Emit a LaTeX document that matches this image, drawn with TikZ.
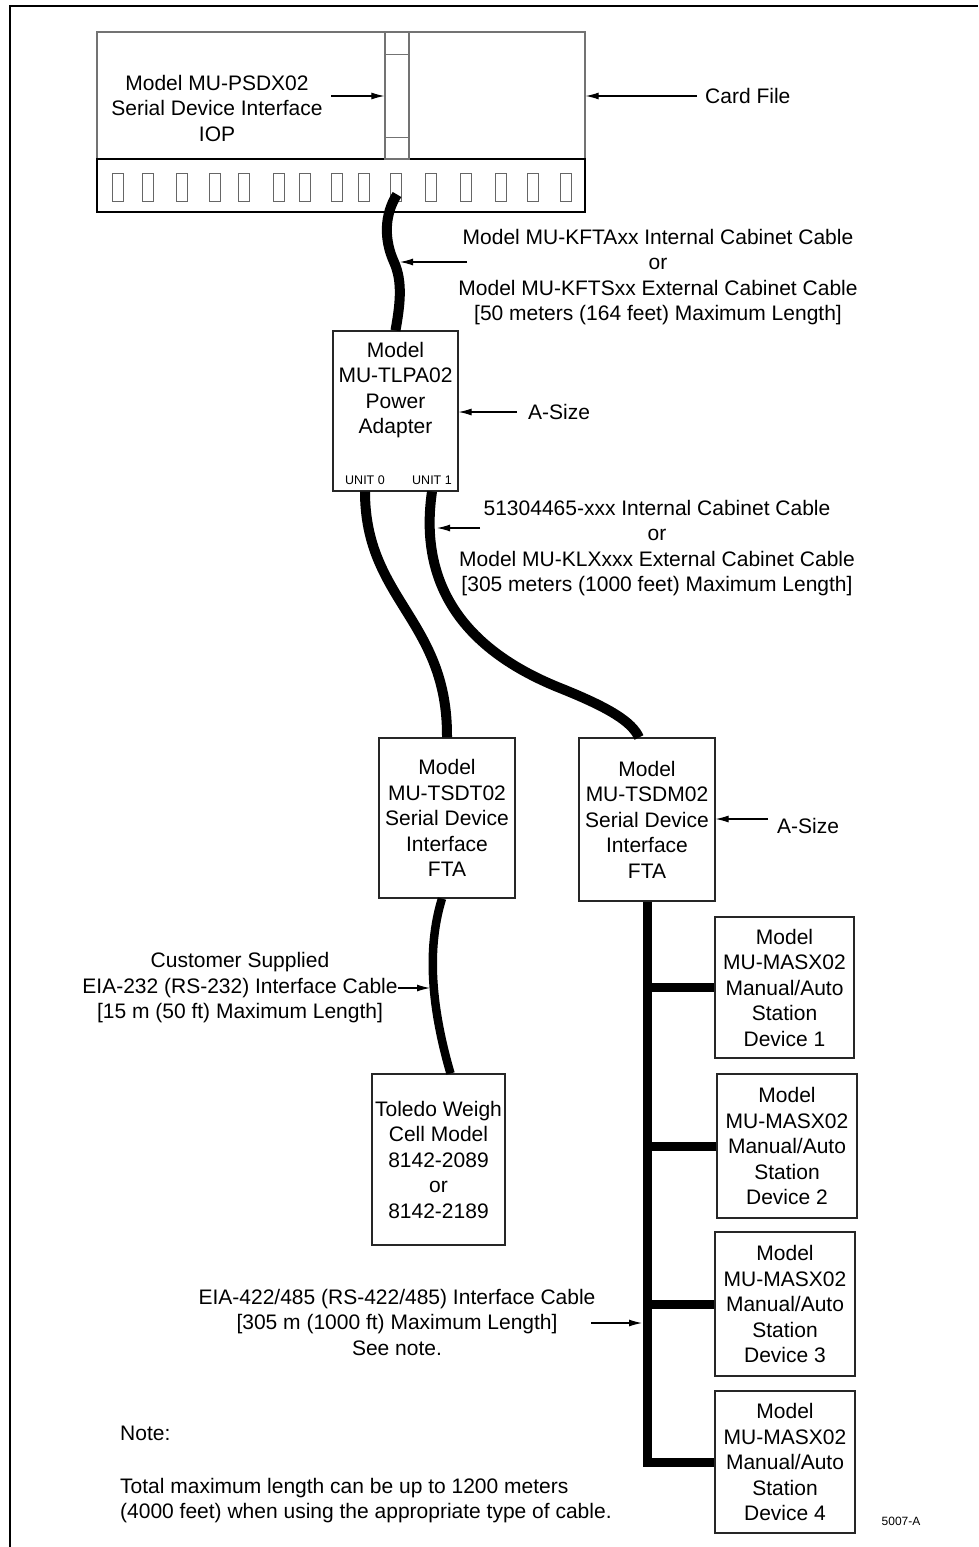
\documentclass[tikz,border=0pt]{standalone}
\usepackage{fontspec}
\setmainfont{Liberation Sans}
\usetikzlibrary{arrows.meta,calc}
\begin{document}
\begin{tikzpicture}[x=1pt,y=-1pt,
  txt/.style={font=\fontsize{21}{25.5}\selectfont, align=center, inner sep=0pt},
  box/.style={draw=black!85, line width=1.1pt, txt},
  grayline/.style={draw=black!55, line width=1.4pt},
  slotbox/.style={draw=black!60, line width=1pt, minimum width=11pt, minimum height=28pt, inner sep=0pt},
  cable/.style={line width=10pt, black},
  thincable/.style={line width=8.5pt, black},
  bus/.style={line width=9pt, black, line join=miter},
  ptr/.style={-{Latex[length=13pt,width=7pt]}, line width=1.1pt},
  small/.style={font=\fontsize{12.5}{14}\selectfont, inner sep=0pt}
]
\useasboundingbox (0,0) rectangle (978,1547);
% frame
\draw[line width=1.5pt] (10,1547) -- (10,6) -- (978,6);

% card file
\node[grayline, minimum width=488pt, minimum height=127pt, inner sep=0pt] (cardfile) at (341,95.5) {};
\node[draw=black, line width=1.4pt, minimum width=488pt, minimum height=53pt, inner sep=0pt] (strip) at (341,185.5) {};
\node[grayline, line width=1.2pt, minimum width=24pt, minimum height=127pt, inner sep=0pt] (slot) at (397,95.5) {};
\draw[grayline, line width=1.2pt] ($(slot.north west)+(0,23)$) -- ($(slot.north east)+(0,23)$);
\draw[grayline, line width=1.2pt] ($(slot.south west)+(0,-22)$) -- ($(slot.south east)+(0,-22)$);
\foreach \x [count=\i] in {118,148,182,215,244,279,305,337,364,396,431,466,501,533,566}
  \node[slotbox] (s\i) at (\x,187) {};

\node[txt] (psdx) at (217,108) {Model MU-PSDX02\\Serial Device Interface\\IOP};
\coordinate (a0) at (331,96);
\draw[ptr] (a0) -- (a0 -| slot.west);

\node[txt, anchor=west] (cf) at (705,96) {Card File};
\draw[ptr] ($(cf.west)+(-8,0)$) -- (cf.west -| cardfile.east);

% power adapter
\node[box, minimum width=125pt, minimum height=160pt, inner sep=0pt] (tlpa) at (395.5,411) {};
\node[txt] (tlpatxt) at (395.5,390) {Model\\MU-TLPA02\\Power\\Adapter};
\node[small] (u0) at (365,480) {UNIT 0};
\node[small] (u1) at (432,480) {UNIT 1};

\draw[cable] ($(s10.south)+(1,-7)$) .. controls (384,215) and (384,240) .. (394,262)
  .. controls (403,282) and (400,305) .. (tlpa.north);

\node[txt] (kfta) at (658,277) {Model MU-KFTAxx Internal Cabinet Cable\\or\\Model MU-KFTSxx External Cabinet Cable\\{[50 meters (164 feet) Maximum Length]}};
\coordinate (a1) at (467,262);
\coordinate (c1) at (400,262);
\draw[ptr] (a1) -- (c1);

\node[txt, anchor=west] (as1) at (528,412) {A-Size};
\draw[ptr] ($(as1.west)+(-11,0)$) -- (as1.west -| tlpa.east);

% FTAs
\node[box, minimum width=136pt, minimum height=160pt] (tsdt) at (447,818) {Model\\MU-TSDT02\\Serial Device\\Interface\\FTA};
\node[box, minimum width=136pt, minimum height=163pt] (tsdm) at (647,819.5) {Model\\MU-TSDM02\\Serial Device\\Interface\\FTA};

\draw[cable] (u0.south |- tlpa.south) .. controls (365,600) and (448,620) .. (tsdt.north);
\draw[cable] (u1.south |- tlpa.south) .. controls (422,560) and (440,640) .. (560,688)
  .. controls (610,708) and (632,722) .. ($(tsdm.north)+(-8,0)$);

\node[txt] (klx) at (657,548) {51304465-xxx Internal Cabinet Cable\\or\\Model MU-KLXxxx External Cabinet Cable\\{[305 meters (1000 feet) Maximum Length]}};
\coordinate (a2) at (480,528);
\coordinate (c2) at (437,528);
\draw[ptr] (a2) -- (c2);

\node[txt, anchor=west] (as2) at (777,826) {A-Size};
\coordinate (a3) at (768,819);
\draw[ptr] (a3) -- (a3 -| tsdm.east);

% Toledo
\node[box, minimum width=133pt, minimum height=171pt] (toledo) at (438.5,1159.5) {Toledo Weigh\\Cell Model\\8142-2089\\or\\8142-2189};
\draw[thincable] ($(tsdt.south)+(-5,0)$) .. controls (426,950) and (432,1010) .. ($(toledo.north)+(12,0)$);

\node[txt] (eia232) at (240,988) {Customer Supplied\\EIA-232 (RS-232) Interface Cable\\{[15 m (50 ft) Maximum Length]}};
\coordinate (c4) at (430,988);
\draw[ptr] (eia232.east) -- (c4);

% devices
\node[box, minimum width=139pt, minimum height=141pt] (d1) at (784.5,987.5) {Model\\MU-MASX02\\Manual/Auto\\Station\\Device 1};
\node[box, minimum width=140pt, minimum height=144pt] (d2) at (787,1146) {Model\\MU-MASX02\\Manual/Auto\\Station\\Device 2};
\node[box, minimum width=140pt, minimum height=144pt] (d3) at (785,1304) {Model\\MU-MASX02\\Manual/Auto\\Station\\Device 3};
\node[box, minimum width=140pt, minimum height=142pt] (d4) at (785,1462) {Model\\MU-MASX02\\Manual/Auto\\Station\\Device 4};

\draw[bus] (tsdm.south) -- (tsdm.south |- d4.west) -- (d4.west);
\foreach \d in {d1,d2,d3}
  \draw[bus] (tsdm.south |- \d.west) -- (\d.west);

\node[txt] (eia422) at (397,1322) {EIA-422/485 (RS-422/485) Interface Cable\\{[305 m (1000 ft) Maximum Length]}\\See note.};
\coordinate (a5) at (591,1323);
\coordinate (c5) at (642,1323);
\draw[ptr] (a5) -- (c5);

\node[txt, anchor=west] (note) at (120,1433) {Note:};
\node[txt, anchor=west, align=left] (total) at (120,1500.5) {Total maximum length can be up to 1200 meters\\(4000 feet) when using the appropriate type of cable.};
\node[small, font=\fontsize{12}{14}\selectfont] (fig) at (901,1521) {5007-A};
\end{tikzpicture}
\end{document}
